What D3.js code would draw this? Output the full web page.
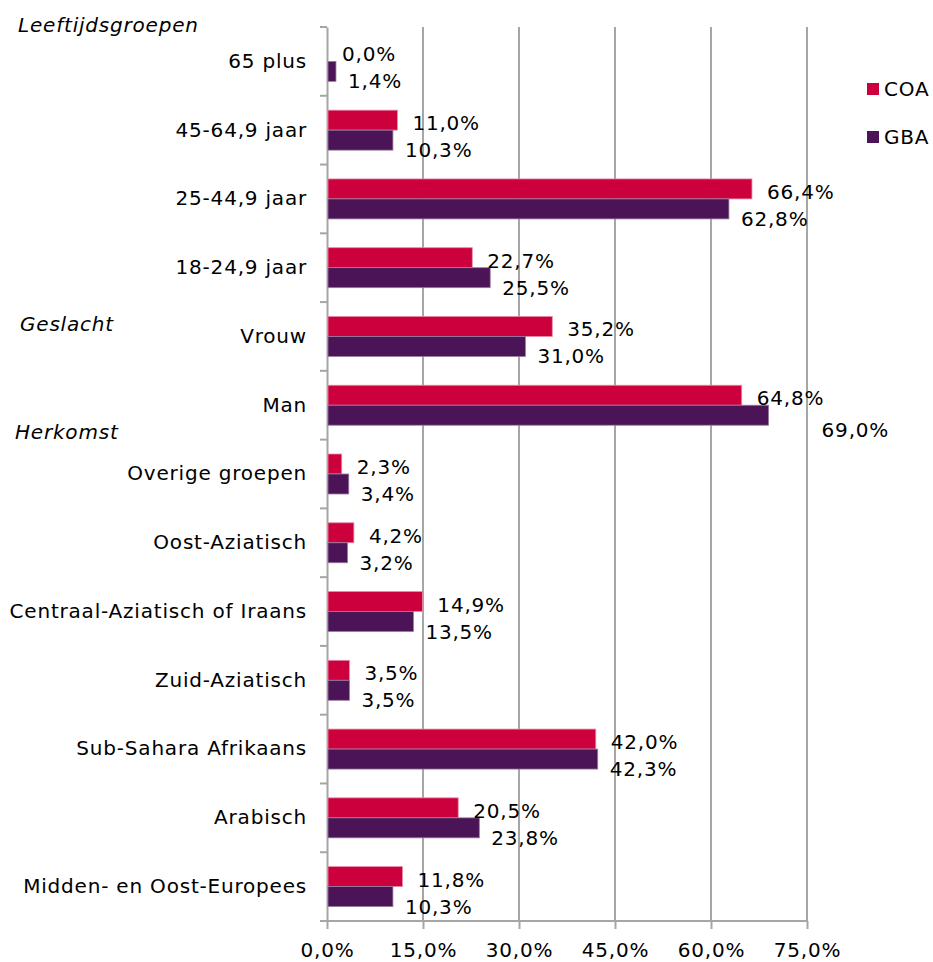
<!DOCTYPE html>
<html><head><meta charset="utf-8">
<script src="https://cdn.jsdelivr.net/npm/d3@7"></script>
<style>body{margin:0;background:#fff}svg{display:block;font-family:"DejaVu Sans",Verdana,sans-serif}svg text{letter-spacing:0.8px}</style>
</head><body>
<svg id="c" width="933" height="962"></svg>
<script>
const categories = ["65 plus","45-64,9 jaar","25-44,9 jaar","18-24,9 jaar","Vrouw","Man","Overige groepen","Oost-Aziatisch","Centraal-Aziatisch of Iraans","Zuid-Aziatisch","Sub-Sahara Afrikaans","Arabisch","Midden- en Oost-Europees"];
const coa = [0.0,11.0,66.4,22.7,35.2,64.8,2.3,4.2,14.9,3.5,42.0,20.5,11.8];
const gba = [1.4,10.3,62.8,25.5,31.0,69.0,3.4,3.2,13.5,3.5,42.3,23.8,10.3];
const seriesNames = ["COA","GBA"];
const xTicks = [0,15,30,45,60,75];
const groupHeaders = [{label:"Leeftijdsgroepen",first:"65 plus"},{label:"Geslacht",first:"Vrouw"},{label:"Herkomst",first:"Overige groepen"}];

const colors = {COA:"#cc003d", GBA:"#4a1456"};
const svg = d3.select("#c");
const x = d3.scaleLinear().domain([0,75]).range([327,807]);
const y = d3.scaleBand().domain(categories).range([27,921]);
const inner = d3.scaleBand().domain(seriesNames).range([0,y.bandwidth()]).paddingInner(0).paddingOuter(0.72);
const fmt = v => d3.format(".1f")(v).replace(".",",")+"%";
const fs = 20;

// gridlines
svg.append("g").selectAll("line").data(xTicks.slice(1)).join("line")
  .attr("x1",d=>x(d)).attr("x2",d=>x(d)).attr("y1",27).attr("y2",921)
  .attr("stroke","#a6a6a6").attr("stroke-width",2);

// x axis
const xa = svg.append("g").attr("transform","translate(0,921)")
  .call(d3.axisBottom(x).tickValues(xTicks).tickSize(8).tickFormat(d=>d3.format(".1f")(d).replace(".",",")+"%"));
xa.select(".domain").attr("stroke","#a6a6a6").attr("stroke-width",2).attr("d","M327,0H807");
xa.selectAll(".tick line").attr("stroke","#a6a6a6").attr("stroke-width",2);
xa.selectAll(".tick text").attr("font-size",fs).attr("fill","#000").attr("y",10).attr("dy","1.3em").attr("font-family","DejaVu Sans, Verdana, sans-serif");

// y axis
const ya = svg.append("g").attr("transform","translate(327,0)")
  .call(d3.axisLeft(y).tickSize(0).tickPadding(20));
ya.select(".domain").attr("stroke","#a6a6a6").attr("stroke-width",2);
ya.selectAll(".tick text").attr("font-size",fs).attr("fill","#000").attr("font-family","DejaVu Sans, Verdana, sans-serif");
const bounds = categories.map(c=>y(c)).concat([y(categories[categories.length-1])+y.bandwidth()]);
svg.append("g").selectAll("line").data(bounds).join("line")
  .attr("x1",320).attr("x2",327).attr("y1",d=>d).attr("y2",d=>d)
  .attr("stroke","#a6a6a6").attr("stroke-width",2);

// bars
const rows = categories.map((c,i)=>({cat:c, COA:coa[i], GBA:gba[i]}));
const g = svg.append("g");
seriesNames.forEach(s=>{
  g.selectAll(".b"+s).data(rows).join("rect")
    .attr("x",x(0)+1).attr("y",d=>y(d.cat)+inner(s))
    .attr("width",d=>Math.max(0,x(d[s])-x(0)-1)).attr("height",inner.bandwidth())
    .attr("fill",colors[s]).attr("stroke",s==="COA"?"#e88aa6":"#9a7ba2").attr("stroke-width",0.8);
});
// labels
seriesNames.forEach(s=>{
  g.selectAll(".l"+s).data(rows).join("text")
    .attr("x",d=>{let px=x(d[s])+(s==="COA"?15:12); if(s==="GBA" && d[s]>=68) px+=41; return px;})
    .attr("y",d=>y(d.cat)+inner(s)+inner.bandwidth()/2+(s==="COA"?3:10)+(s==="GBA"&&d[s]>=68?5:0))
    .attr("dy","0.35em").attr("font-size",fs).attr("fill","#000")
    .text(d=>fmt(d[s]));
});

// group headers
svg.append("g").selectAll("text").data(groupHeaders).join("text")
  .attr("x",(d,i)=>[18,20,15][i])
  .attr("y",(d,i)=>[y(d.first)-2, y(d.first)+22, y(d.first)-8][i])
  .attr("dy","0.35em").attr("font-size",fs).attr("font-style","italic").text(d=>d.label);

// legend
const lg = svg.append("g");
seriesNames.forEach((s,i)=>{
  const ly = 89 + i*48;
  lg.append("rect").attr("x",867).attr("y",ly-6).attr("width",12).attr("height",12).attr("fill",colors[s]);
  lg.append("text").attr("x",884).attr("y",ly).attr("dy","0.35em").attr("font-size",fs).text(s);
});
</script>
</body></html>
